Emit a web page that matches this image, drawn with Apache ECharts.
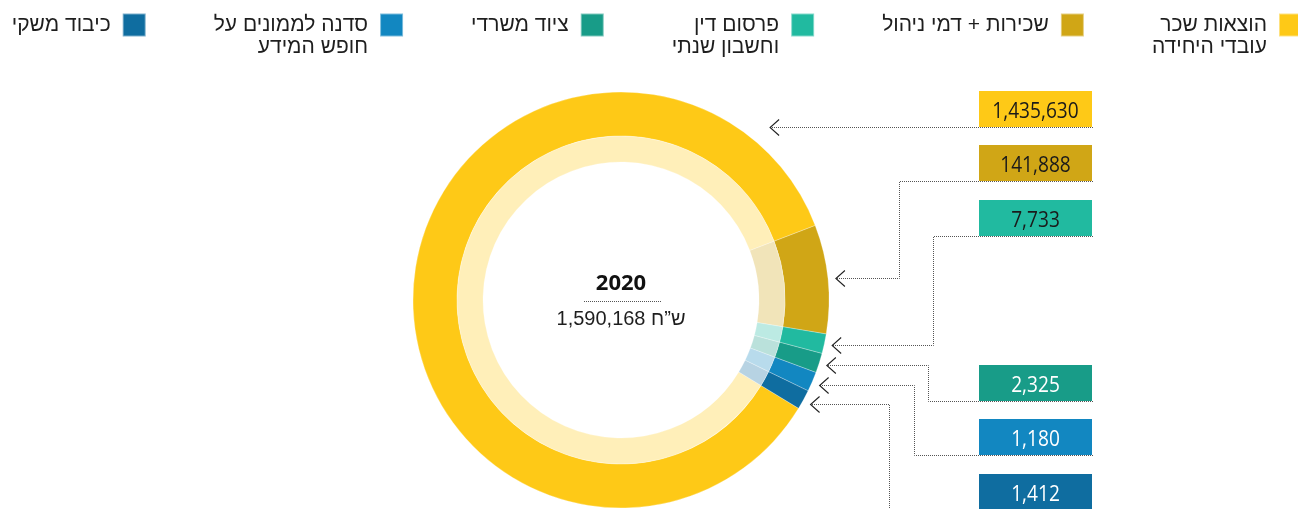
<!DOCTYPE html>
<html><head><meta charset="utf-8">
<script src="https://cdn.jsdelivr.net/npm/echarts@6/dist/echarts.min.js"></script>
<style>html,body{margin:0;padding:0;background:#fff}#c{width:1298px;height:509px}</style>
</head><body><div id="c"></div>
<script>
// ---- data ----
const categories = ['הוצאות שכר עובדי היחידה', 'שכירות + דמי ניהול', 'פרסום דין וחשבון שנתי', 'ציוד משרדי', 'סדנה לממונים על חופש המידע', 'כיבוד משקי'];
const legendLines = [['הוצאות שכר', 'עובדי היחידה'], ['שכירות + דמי ניהול'], ['פרסום דין', 'וחשבון שנתי'], ['ציוד משרדי'], ['סדנה לממונים על', 'חופש המידע'], ['כיבוד משקי']];
const values = [1435630, 141888, 7733, 2325, 1180, 1412];
const yearLabel = '2020';
const unitLabel = 'ש”ח';
const colors = ['#FEC917', '#D0A616', '#21BAA0', '#189C88', '#1287C1', '#0F6DA0'];

// ---- layout / style ----
const CX = 621, CY = 300, R_OUT = 208, R_MID = 164, R_IN = 138;
const FONT = "'Liberation Sans', 'DejaVu Sans', sans-serif";
const NUMFONT = "'Open Sans', 'Noto Sans', sans-serif";
const boxTops = [91, 145, 200, 365, 419, 474];
const elbowX = [null, 899, 933, 928, 914, 889];
const BOX_X = 979, BOX_W = 113, BOX_H = 36, LINE_END = 1093;

function lighten(hex, a) {
  const n = parseInt(hex.slice(1), 16);
  const r = (n >> 16) & 255, g = (n >> 8) & 255, b = n & 255;
  const m = c => Math.round(255 * (1 - a) + c * a);
  return 'rgb(' + m(r) + ',' + m(g) + ',' + m(b) + ')';
}

const chart = echarts.init(document.getElementById('c'), null, { renderer: 'canvas' });
const common = {
  type: 'pie', center: [CX, CY], startAngle: 328.6, minAngle: 5.5, clockwise: true,
  label: { show: false }, labelLine: { show: false }, silent: true,
  emphasis: { disabled: true }, avoidLabelOverlap: false,
  itemStyle: { borderColor: 'rgba(255,255,255,0.45)', borderWidth: 0.6 }
};
const option = {
  animation: false,
  legend: {
    data: categories.slice().reverse(),
    orient: 'horizontal', right: -5, top: -8, width: 1600, padding: 0,
    itemGap: 67, itemWidth: 23, itemHeight: 23, align: 'right', icon: 'rect',
    selectedMode: false,
    formatter: function (name) {
      const l = legendLines[categories.indexOf(name)];
      return l.length > 1 ? '\n' + l.join('\n') : l[0];
    },
    textStyle: { fontFamily: FONT, fontSize: 21, lineHeight: 22, color: '#1e1e1e', padding: [0, 7, 0, 0] }
  },
  series: [
    Object.assign({}, common, { radius: [R_MID, R_OUT], data: categories.map((n, i) => ({ name: n, value: values[i], itemStyle: { color: colors[i] } })) }),
    Object.assign({}, common, { radius: [R_IN, R_MID], data: categories.map((n, i) => ({ name: n, value: values[i], itemStyle: { color: lighten(colors[i], 0.3) } })) })
  ]
};
chart.setOption(option);

// ---- annotations derived from the pie layout ----
const data = chart.getModel().getSeriesByIndex(0).getData();
const g = [];
const total = values.reduce((a, b) => a + b, 0);
categories.forEach(function (name, i) {
  const lay = data.getItemLayout(i);
  const top = boxTops[i];
  const lineY = top + BOX_H + 0.5;
  let tipX, tipY, pts;
  if (elbowX[i] == null) {
    const tr = lay.r + 20;
    const dy = lineY - lay.cy;
    tipX = lay.cx + Math.sqrt(tr * tr - dy * dy);
    tipY = lineY;
    pts = [[LINE_END, lineY], [tipX, tipY]];
  } else {
    const mid = (lay.startAngle + lay.endAngle) / 2;
    const tr = lay.r + 8;
    tipX = lay.cx + tr * Math.cos(mid);
    tipY = Math.round(lay.cy + tr * Math.sin(mid)) + 0.5;
    const ex = elbowX[i] + 0.5;
    pts = [[LINE_END, lineY], [ex, lineY], [ex, tipY], [tipX, tipY]];
  }
  g.push({ type: 'rect', shape: { x: BOX_X, y: top, width: BOX_W, height: BOX_H }, style: { fill: colors[i] }, silent: true });
  g.push({ type: 'text', x: BOX_X + BOX_W / 2, y: top + BOX_H / 2 + 3, scaleX: 0.85, silent: true,
    style: { text: values[i].toLocaleString('en-US'), fontFamily: NUMFONT, fontSize: 22.5, fill: i < 3 ? '#1a1a1a' : '#ffffff', align: 'center', verticalAlign: 'middle', textAlign: 'center', textVerticalAlign: 'middle' } });
  g.push({ type: 'polyline', shape: { points: pts }, style: { stroke: '#555', lineWidth: 1, lineDash: [1, 1], fill: null }, silent: true });
  g.push({ type: 'polyline', shape: { points: [[tipX + 9, tipY - 8], [tipX, tipY], [tipX + 9, tipY + 8]] }, style: { stroke: '#222', lineWidth: 1.1, fill: null }, silent: true });
});
g.push({ type: 'text', x: CX, y: CY - 16, silent: true,
  style: { text: yearLabel, fontFamily: NUMFONT, fontWeight: 'bold', fontSize: 22, fill: '#111', align: 'center', verticalAlign: 'middle', textAlign: 'center', textVerticalAlign: 'middle' } });
g.push({ type: 'line', shape: { x1: CX - 37, y1: CY + 1.5, x2: CX + 40, y2: CY + 1.5 }, style: { stroke: '#555', lineWidth: 1, lineDash: [1, 1] }, silent: true });
g.push({ type: 'text', x: CX, y: CY + 19, silent: true,
  style: { text: unitLabel + ' ' + total.toLocaleString('en-US'), fontFamily: FONT, fontSize: 20, fill: '#1e1e1e', align: 'center', verticalAlign: 'middle', textAlign: 'center', textVerticalAlign: 'middle' } });
chart.setOption({ graphic: { elements: g } });
</script></body></html>
